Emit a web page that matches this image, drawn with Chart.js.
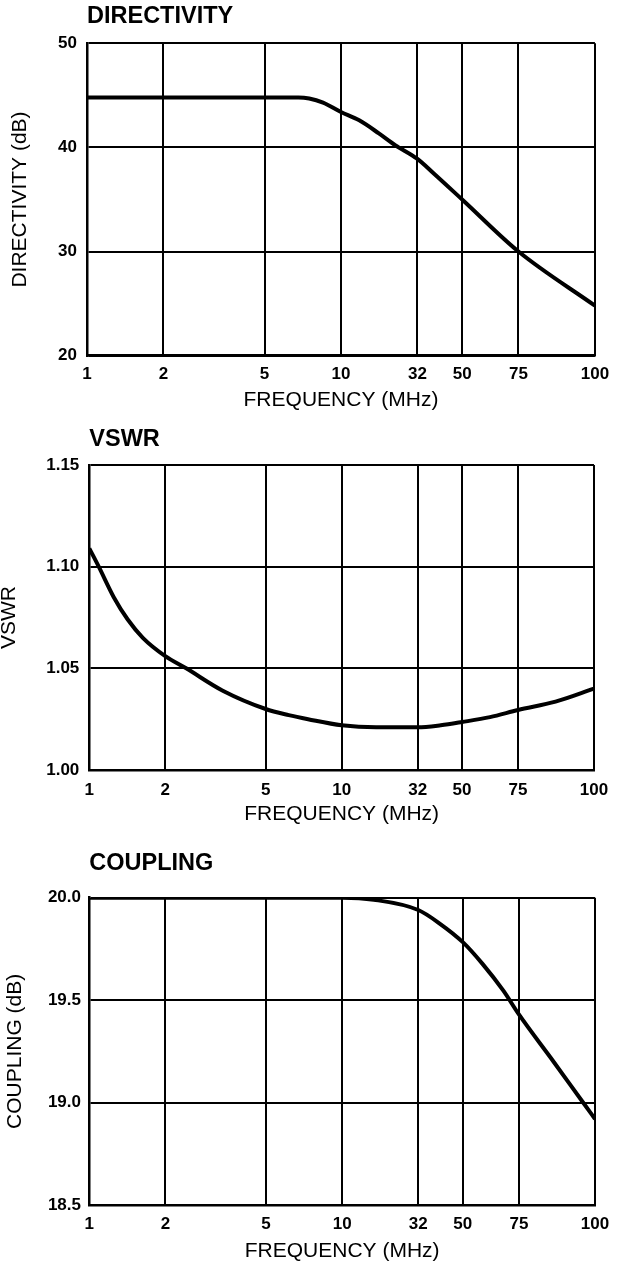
<!DOCTYPE html>
<html><head><meta charset="utf-8">
<script src="https://cdn.jsdelivr.net/npm/chart.js@4.4.0/dist/chart.umd.min.js"></script>
<style>
html,body{margin:0;padding:0;background:#fff;width:618px;height:1268px;overflow:hidden}
canvas{position:absolute;left:0}
</style></head><body>
<canvas id="c1" width="618" height="415" style="top:0px"></canvas>
<canvas id="c2" width="618" height="415" style="top:415px"></canvas>
<canvas id="c3" width="618" height="438" style="top:830px"></canvas>
<script>
// x grid (log positions of the printed grid lines) and the labels printed under them
const freqGrid = [1, 2, 5, 10, 20, 30, 50, 100];
const freqTickLabels = ['1', '2', '5', '10', '32', '50', '75', '100'];

// DIRECTIVITY
const dirFreq = [1, 2, 5, 6.8, 7.5, 8.5, 10, 11.8, 14.1, 16.4, 20, 23.2, 30, 50, 100];
const dirDb   = [44.8, 44.8, 44.8, 44.8, 44.7, 44.3, 43.4, 42.6, 41.35, 40.2, 38.9, 37.5, 35.0, 30.0, 24.8];
const dirTicks = [20, 30, 40, 50];

// VSWR
const vswrFreq = [1, 1.09, 1.25, 1.42, 1.63, 2, 2.42, 3.38, 5, 6.17, 7.36, 10, 13.7, 20, 24.7, 30, 38.7, 50, 70.4, 100];
const vswrVal  = [1.109, 1.100, 1.085, 1.074, 1.065, 1.056, 1.050, 1.039, 1.030, 1.027, 1.025, 1.022, 1.021, 1.021, 1.022, 1.0236, 1.026, 1.0295, 1.0336, 1.040];
const vswrTicks = [1.00, 1.05, 1.10, 1.15];

// COUPLING
const coupFreq = [1, 2, 5, 10, 13.35, 20, 24.3, 30, 35.9, 43.4, 50, 68.8, 89.1, 100];
const coupDb   = [20.0, 20.0, 20.0, 20.0, 19.99, 19.94, 19.874, 19.783, 19.677, 19.546, 19.43, 19.197, 19.005, 18.92];
const coupTicks = [18.5, 19.0, 19.5, 20.0];

Chart.defaults.font.family = "'Liberation Sans', Arial, Helvetica, sans-serif";
Chart.defaults.color = '#000';

function panel(id, o) {
  return new Chart(document.getElementById(id), {
    type: 'line',
    data: {
      datasets: [{
        data: o.xs.map((x, i) => ({ x: x, y: o.ys[i] })),
        borderColor: '#000', borderWidth: 4, pointRadius: 0, fill: false,
        cubicInterpolationMode: 'monotone'
      }]
    },
    options: {
      responsive: false, animation: false, events: [],
      layout: { padding: { left: 0, right: o.padRight, top: 0, bottom: 0 } },
      plugins: {
        legend: { display: false }, tooltip: { enabled: false },
        title: {
          display: true, text: o.title, align: 'start', fullSize: false, color: '#000',
          font: { size: 23.5, weight: 'bold', lineHeight: 1.2 },
          padding: { top: o.titleTop, bottom: o.titleBottom }
        }
      },
      scales: {
        x: {
          type: 'logarithmic', min: 1, max: 100,
          afterBuildTicks: s => { s.ticks = freqGrid.map(v => ({ value: v })); },
          afterFit: s => { s.height = o.xHeight; },
          ticks: {
            autoSkip: false, maxRotation: 0, minRotation: 0, padding: o.xTickPad,
            font: { size: 17, weight: 'bold' },
            callback: (v, i) => freqTickLabels[i]
          },
          grid: { color: '#000', lineWidth: 2, drawTicks: false },
          border: { display: true, color: '#000', width: 2.5 },
          title: { display: true, text: 'FREQUENCY (MHz)', font: { size: 21, lineHeight: 1.2 }, padding: { top: 0, bottom: o.xTitlePad } }
        },
        y: {
          type: 'linear', min: o.yMin, max: o.yMax,
          afterBuildTicks: s => { s.ticks = o.yTicks.map(v => ({ value: v })); },
          afterFit: s => { s.width = o.yWidth; },
          ticks: {
            padding: o.yTickPad, font: { size: 17, weight: 'bold' },
            callback: v => Number(v).toFixed(o.dec)
          },
          grid: { color: '#000', lineWidth: 2, drawTicks: false },
          border: { display: true, color: '#000', width: 2.5 },
          title: { display: true, text: o.yTitle, font: { size: 21, lineHeight: 1 }, padding: { top: o.yTitlePad, bottom: 0 } }
        }
      }
    }
  });
}

panel('c1', {
  xs: dirFreq, ys: dirDb, yTicks: dirTicks, yMin: 20, yMax: 50, dec: 0,
  title: 'DIRECTIVITY', yTitle: 'DIRECTIVITY (dB)',
  padRight: 21, titleTop: 2.1, titleBottom: 13, xHeight: 59.3, xTickPad: 8.9, xTitlePad: 1.9,
  yWidth: 87, yTickPad: 10, yTitlePad: 9.5
});
panel('c2', {
  xs: vswrFreq, ys: vswrVal, yTicks: vswrTicks, yMin: 1.00, yMax: 1.15, dec: 2,
  title: 'VSWR', yTitle: 'VSWR',
  padRight: 15.3, titleTop: 10.1, titleBottom: 11.7, xHeight: 60, xTickPad: 9.8, xTitlePad: 2.9,
  yWidth: 89.3, yTickPad: 10, yTitlePad: -0.8
});
panel('c3', {
  xs: coupFreq, ys: coupDb, yTicks: coupTicks, yMin: 18.5, yMax: 20.0, dec: 1,
  title: 'COUPLING', yTitle: 'COUPLING (dB)',
  padRight: 13, titleTop: 19.7, titleBottom: 19.8, xHeight: 63, xTickPad: 8.8, xTitlePad: 3.9,
  yWidth: 89.3, yTickPad: 8.3, yTitlePad: 4.8
});
</script>
</body></html>
